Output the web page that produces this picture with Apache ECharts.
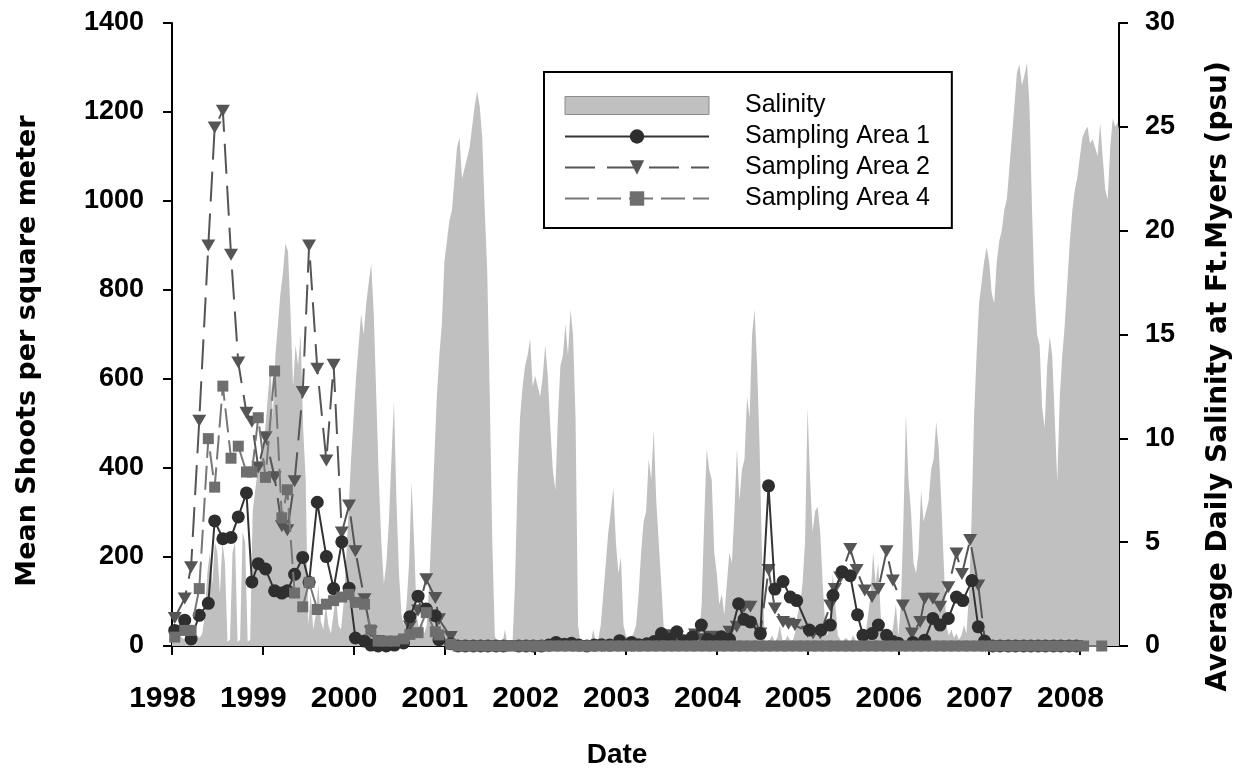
<!DOCTYPE html>
<html lang="en">
<head>
<meta charset="UTF-8">
<title>Shoots and salinity</title>
<script src="https://cdn.jsdelivr.net/npm/echarts/dist/echarts.min.js"></script>
<style>
html,body{margin:0;padding:0;background:#fff}
#chartBox{width:1245px;height:774px}
</style>
</head>
<body>
<div id="chartBox"></div>
<script>
const FONT = 'Liberation Sans';
const TITLE_FONT = 'DejaVu Sans';

// tick labels
const yearTicks = [1998, 1999, 2000, 2001, 2002, 2003, 2004, 2005, 2006, 2007, 2008];

// salinity (psu), ~10 day steps, 36 per year
const SAL_STEPS = 36;
const sal1998 = [0.3,0.4,0.3,0.5,0.4,0.3,0.5,0.6,0.4,0.3,0.5,0.4,0.6,1.5,3.5,4.5,3.0,5.0,4.5,2.5,5.0,4.0,0.2,0.3,4.5,5.0,0.2,0.3,5.5,5.0,0.2,0.3,6.5,7.5,8.5,9.0];
const sal1999 = [9.5,10.5,12.0,13.5,11.0,14.0,15.5,17.0,18.0,19.4,19.0,16.0,12.5,14.5,13.5,15.0,10.5,8.0,1.0,2.5,0.8,1.5,3.0,1.2,0.8,2.0,1.0,0.6,1.5,2.5,1.0,0.8,2.0,4.0,6.5,9.0];
const sal2000 = [11.0,13.0,14.5,16.0,15.0,16.5,17.5,18.4,16.0,12.0,8.0,5.0,3.0,4.0,6.0,9.0,11.8,7.0,3.5,1.5,1.0,2.0,4.0,7.9,5.0,1.5,0.8,1.2,0.6,1.0,3.0,6.0,9.0,12.0,14.0,15.5];
const sal2001 = [18.5,19.5,20.5,21.0,22.5,24.0,24.5,22.5,23.0,23.5,24.0,25.0,26.0,26.7,26.0,24.5,21.0,18.0,12.0,5.0,0.5,0.1,0.1,0.1,0.8,0.1,0.1,0.1,3.0,8.0,11.0,12.5,13.5,14.0,14.8,12.5];
const sal2002 = [13.0,12.5,12.0,13.0,14.5,13.0,10.5,8.5,7.5,11.0,13.5,14.0,15.5,14.0,16.2,15.0,11.0,1.0,0.1,0.1,0.1,0.2,0.1,0.8,0.2,0.3,1.0,2.5,4.0,5.5,6.5,7.6,5.0,3.5,4.3,1.0];
const sal2003 = [0.5,0.3,0.4,0.6,1.0,2.5,4.5,6.0,6.5,9.0,8.0,10.4,7.0,5.0,3.0,0.8,0.1,0.1,0.1,0.1,0.1,0.1,0.1,0.1,0.1,0.1,0.1,0.1,0.1,0.5,2.0,6.0,9.5,8.5,8.0,4.5];
const sal2004 = [3.5,2.0,2.5,1.5,3.0,4.5,4.0,6.5,9.5,7.0,8.5,9.0,12.0,11.0,15.0,16.2,13.5,9.5,4.0,0.3,0.2,0.3,0.5,0.2,0.4,1.0,0.3,0.2,0.5,0.3,0.2,0.6,1.5,2.0,3.0,5.0];
const sal2005 = [11.5,8.0,5.5,6.5,6.7,5.5,3.0,1.0,0.5,1.5,3.5,2.0,0.5,0.3,0.2,0.4,0.3,0.2,0.5,0.3,0.2,0.4,0.3,0.6,1.5,2.5,4.5,3.0,4.0,1.5,0.5,0.3,0.4,0.3,1.0,2.0];
const sal2006 = [0.5,2.0,6.0,11.2,8.0,6.5,4.0,3.5,4.5,7.5,6.0,6.5,7.0,8.5,9.0,10.8,9.5,7.0,4.0,1.0,0.5,0.8,0.4,0.6,0.3,0.5,1.0,0.6,2.5,6.0,11.0,14.0,16.5,17.5,18.5,19.2];
const sal2007 = [18.5,17.0,16.5,18.5,19.5,20.0,21.0,21.5,23.0,24.5,26.0,27.6,28.0,27.0,27.5,28.1,26.0,21.0,17.0,15.0,14.5,11.5,10.5,13.5,14.9,14.0,11.0,7.9,12.0,14.0,15.5,17.5,19.5,21.0,22.0,22.6];
const sal2008 = [23.6,24.5,24.8,25.0,24.2,24.4,24.0,23.6,25.2,23.6,22.0,21.5,24.0,25.4,25.0,25.2,24.5];
const salinityYears = [1998, 1999, 2000, 2001, 2002, 2003, 2004, 2005, 2006, 2007, 2008];
const salinityByYear = [sal1998, sal1999, sal2000, sal2001, sal2002, sal2003, sal2004, sal2005, sal2006, sal2007, sal2008];

// [decimal year, mean shoots per m2]
const area1 = [
  [1998.03,35],[1998.14,58],[1998.21,16],[1998.30,69],[1998.40,96],[1998.47,281],[1998.56,241],[1998.65,244],[1998.73,290],[1998.82,344],[1998.88,144],[1998.95,185],
  [1999.03,173],[1999.13,124],[1999.21,119],[1999.27,124],[1999.35,161],[1999.44,199],[1999.51,143],[1999.60,323],[1999.70,201],[1999.78,129],[1999.87,234],[1999.95,130],
  [2000.02,18],[2000.12,11],[2000.19,2],[2000.27,0],[2000.36,0],[2000.45,2],[2000.55,7],[2000.62,66],[2000.71,112],[2000.80,83],[2000.90,68],[2000.94,14],
  [2001.07,5],[2001.15,0],[2001.23,0],[2001.32,0],[2001.40,0],[2001.48,0],[2001.57,0],[2001.65,0],[2001.82,0],[2001.90,0],[2001.98,0],
  [2002.07,0],[2002.15,2],[2002.23,8],[2002.32,4],[2002.40,6],[2002.48,2],[2002.57,0],[2002.65,2],[2002.73,3],[2002.82,2],[2002.93,12],
  [2003.06,8],[2003.14,3],[2003.23,5],[2003.31,10],[2003.39,28],[2003.48,15],[2003.56,32],[2003.64,12],[2003.73,20],[2003.83,47],[2003.90,15],[2003.97,10],
  [2004.05,21],[2004.14,15],[2004.24,95],[2004.30,60],[2004.37,54],[2004.48,28],[2004.57,360],[2004.64,128],[2004.73,145],[2004.81,110],[2004.88,102],
  [2005.02,36],[2005.15,36],[2005.25,47],[2005.28,114],[2005.38,167],[2005.47,158],[2005.55,70],[2005.61,24],[2005.71,28],[2005.78,47],[2005.87,24],[2005.94,10],
  [2006.00,6],[2006.16,8],[2006.29,13],[2006.38,62],[2006.46,47],[2006.55,62],[2006.64,110],[2006.71,102],[2006.81,147],[2006.88,43],[2006.95,11],
  [2007.04,0],[2007.12,0],[2007.21,0],[2007.29,0],[2007.38,0],[2007.46,0],[2007.54,0],[2007.62,0],[2007.71,0],[2007.79,0],[2007.88,0],[2007.96,0]
];
const area2 = [
  [1998.03,63],[1998.14,107],[1998.21,177],[1998.30,506],[1998.40,900],[1998.47,1165],[1998.56,1203],[1998.65,879],[1998.73,637],[1998.82,524],[1998.88,504],[1998.95,401],
  [1999.03,469],[1999.13,379],[1999.21,269],[1999.27,260],[1999.35,370],[1999.44,571],[1999.51,900],[1999.60,623],[1999.70,417],[1999.78,632],[1999.87,255],[1999.95,316],
  [2000.02,213],[2000.12,105],[2000.19,32],[2000.27,11],[2000.36,5],[2000.45,2],[2000.55,10],[2000.62,44],[2000.71,80],[2000.80,150],[2000.90,108],[2000.94,60],
  [2001.07,20],[2001.15,0],[2001.23,0],[2001.32,0],[2001.40,0],[2001.48,0],[2001.57,0],[2001.65,0],[2001.73,0],[2001.82,0],[2001.90,0],[2001.98,0],
  [2002.07,0],[2002.15,0],[2002.23,0],[2002.32,0],[2002.40,0],[2002.48,0],[2002.57,0],[2002.65,0],[2002.73,0],[2002.82,0],[2002.90,0],[2002.98,0],
  [2003.06,0],[2003.14,0],[2003.23,0],[2003.31,0],[2003.39,10],[2003.46,24],[2003.56,21],[2003.64,10],[2003.76,26],[2003.83,15],[2003.94,21],
  [2004.05,15],[2004.14,32],[2004.22,43],[2004.30,88],[2004.37,88],[2004.48,28],[2004.57,171],[2004.64,84],[2004.73,54],[2004.79,50],[2004.86,47],
  [2005.00,32],[2005.06,28],[2005.14,28],[2005.25,91],[2005.30,128],[2005.36,154],[2005.47,218],[2005.54,171],[2005.63,125],[2005.71,110],[2005.78,128],[2005.87,213],[2005.94,147],
  [2006.05,91],[2006.15,28],[2006.24,54],[2006.29,106],[2006.38,106],[2006.46,88],[2006.55,132],[2006.64,208],[2006.70,162],[2006.79,238],[2006.88,136],[2006.96,0],
  [2007.04,0],[2007.12,0],[2007.21,0],[2007.29,0],[2007.38,0],[2007.46,0],[2007.54,0],[2007.62,0],[2007.71,0],[2007.79,0],[2007.88,0],[2007.96,0]
];
const area4 = [
  [1998.03,20],[1998.14,35],[1998.21,35],[1998.30,129],[1998.40,466],[1998.47,357],[1998.56,584],[1998.65,422],[1998.73,449],[1998.82,391],[1998.88,391],[1998.95,513],
  [1999.03,379],[1999.13,618],[1999.21,288],[1999.27,351],[1999.35,119],[1999.44,88],[1999.51,143],[1999.60,82],[1999.70,94],[1999.78,102],[1999.87,110],[1999.95,116],
  [2000.02,98],[2000.12,94],[2000.19,36],[2000.27,11],[2000.36,11],[2000.45,11],[2000.55,16],[2000.62,26],[2000.71,30],[2000.80,75],[2000.90,32],[2000.94,25],
  [2001.07,4],[2001.15,0],[2001.23,0],[2001.32,0],[2001.40,0],[2001.48,0],[2001.57,0],[2001.65,0],[2001.73,0],[2001.82,0],[2001.90,0],[2001.98,0],
  [2002.04,0],[2002.12,0],[2002.21,0],[2002.29,0],[2002.38,0],[2002.46,0],[2002.54,0],[2002.62,0],[2002.71,0],[2002.79,0],[2002.88,0],[2002.96,0],
  [2003.04,0],[2003.12,0],[2003.21,0],[2003.29,0],[2003.38,0],[2003.46,0],[2003.54,0],[2003.62,0],[2003.71,0],[2003.79,0],[2003.88,0],[2003.96,0],
  [2004.04,0],[2004.12,0],[2004.21,0],[2004.29,0],[2004.38,0],[2004.46,0],[2004.54,0],[2004.62,0],[2004.71,0],[2004.79,0],[2004.88,0],[2004.96,0],
  [2005.04,0],[2005.12,0],[2005.21,0],[2005.29,0],[2005.38,0],[2005.46,0],[2005.54,0],[2005.62,0],[2005.71,0],[2005.79,0],[2005.88,0],[2005.96,0],
  [2006.04,0],[2006.12,0],[2006.21,0],[2006.29,0],[2006.38,0],[2006.46,0],[2006.54,0],[2006.62,0],[2006.71,0],[2006.79,0],[2006.88,0],[2006.96,0],
  [2007.04,0],[2007.12,0],[2007.21,0],[2007.29,0],[2007.38,0],[2007.46,0],[2007.54,0],[2007.62,0],[2007.71,0],[2007.79,0],[2007.88,0],[2007.96,0],
  [2008.04,0],[2008.24,0]
];

// 盐度序列展开
function buildSalinity() {
    let out = [];
    salinityByYear.forEach((vals, k) => {
        vals.forEach((v, i) => out.push([salinityYears[k] + i / SAL_STEPS, v]));
    });
    return out;
}

const axisBlack = {color: '#000', width: 2};
const tickFont = {fontFamily: FONT, fontWeight: 'bold', color: '#000'};
const titleFont = {fontFamily: TITLE_FONT, fontWeight: 'bold', color: '#000'};

let chartObj = echarts.init(document.getElementById('chartBox'));
chartObj.setOption({
    animation: false,
    textStyle: {fontFamily: FONT},
    grid: {left: 172, right: 126, top: 23, bottom: 123},
    legend: {
        left: 544,
        top: 72,
        orient: 'vertical',
        padding: [21, 22, 17, 20],
        itemWidth: 144,
        itemHeight: 18,
        itemGap: 6,
        borderColor: '#000',
        borderWidth: 2,
        backgroundColor: '#fff',
        selectedMode: false,
        textStyle: {fontFamily: FONT, fontSize: 25, color: '#000', padding: [0, 0, 0, 31]},
        data: [
            {name: 'Salinity', icon: 'rect', itemStyle: {color: '#c0c0c0', borderColor: '#8c8c8c', borderWidth: 1}},
            {name: 'Sampling Area 1'},
            {name: 'Sampling Area 2'},
            {name: 'Sampling Area 4'}
        ]
    },
    xAxis: [
        {
            type: 'value',
            min: 1998,
            max: 2008.43,
            position: 'bottom',
            offset: 10,
            name: 'Date',
            nameLocation: 'middle',
            nameGap: 85,
            nameTextStyle: Object.assign({fontSize: 28, padding: [0, 57, 0, 0]}, tickFont),
            axisLine: {show: true, lineStyle: axisBlack},
            axisTick: {show: true, length: 9, lineStyle: axisBlack, customValues: yearTicks},
            axisLabel: Object.assign({fontSize: 30, margin: 28, padding: [0, 19, 0, 0],
                customValues: yearTicks, formatter: v => String(v)}, tickFont),
            splitLine: {show: false}
        },
        {
            type: 'value',
            min: 1998,
            max: 2008.43,
            position: 'top',
            axisLine: {show: true, lineStyle: axisBlack},
            axisTick: {show: false},
            axisLabel: {show: false},
            splitLine: {show: false}
        }
    ],
    yAxis: [
        {
            type: 'value',
            min: 0,
            max: 1400,
            interval: 200,
            position: 'left',
            name: 'Mean Shoots per square meter',
            nameLocation: 'middle',
            nameGap: 131,
            nameTextStyle: Object.assign({fontSize: 27, padding: [0, 33, 0, 0]}, titleFont),
            axisLine: {show: true, lineStyle: axisBlack},
            axisTick: {show: true, length: 9, lineStyle: axisBlack},
            axisLabel: Object.assign({fontSize: 27, margin: 28, formatter: v => String(v)}, tickFont),
            splitLine: {show: false}
        },
        {
            type: 'value',
            min: 0,
            max: 30,
            interval: 5,
            position: 'right',
            name: 'Average Daily Salinity at Ft.Myers (psu)',
            nameLocation: 'middle',
            nameGap: 86,
            nameTextStyle: Object.assign({fontSize: 28, padding: [0, 84, 0, 0]}, titleFont),
            axisLine: {show: true, lineStyle: axisBlack},
            axisTick: {show: true, length: 9, lineStyle: axisBlack},
            axisLabel: Object.assign({fontSize: 27, margin: 26, formatter: v => String(v)}, tickFont),
            splitLine: {show: false}
        }
    ],
    series: [
        {
            name: 'Salinity',
            type: 'line',
            yAxisIndex: 1,
            data: buildSalinity(),
            symbol: 'none',
            lineStyle: {width: 0},
            itemStyle: {color: '#c0c0c0'},
            areaStyle: {color: '#c0c0c0', opacity: 1},
            silent: true,
            z: 1
        },
        {
            name: 'Sampling Area 2',
            type: 'line',
            data: area2,
            symbol: 'triangle',
            symbolRotate: 180,
            symbolSize: [14, 12],
            itemStyle: {color: '#555555'},
            lineStyle: {color: '#555555', width: 2, type: [30, 12]},
            z: 2
        },
        {
            name: 'Sampling Area 1',
            type: 'line',
            data: area1,
            symbol: 'circle',
            symbolSize: 13,
            itemStyle: {color: '#2e2e2e'},
            lineStyle: {color: '#333333', width: 2},
            z: 3
        },
        {
            name: 'Sampling Area 4',
            type: 'line',
            data: area4,
            symbol: 'rect',
            symbolSize: 11,
            itemStyle: {color: '#6e6e6e'},
            lineStyle: {color: '#777777', width: 2, type: [24, 8]},
            z: 4
        }
    ]
});
</script>
</body>
</html>
